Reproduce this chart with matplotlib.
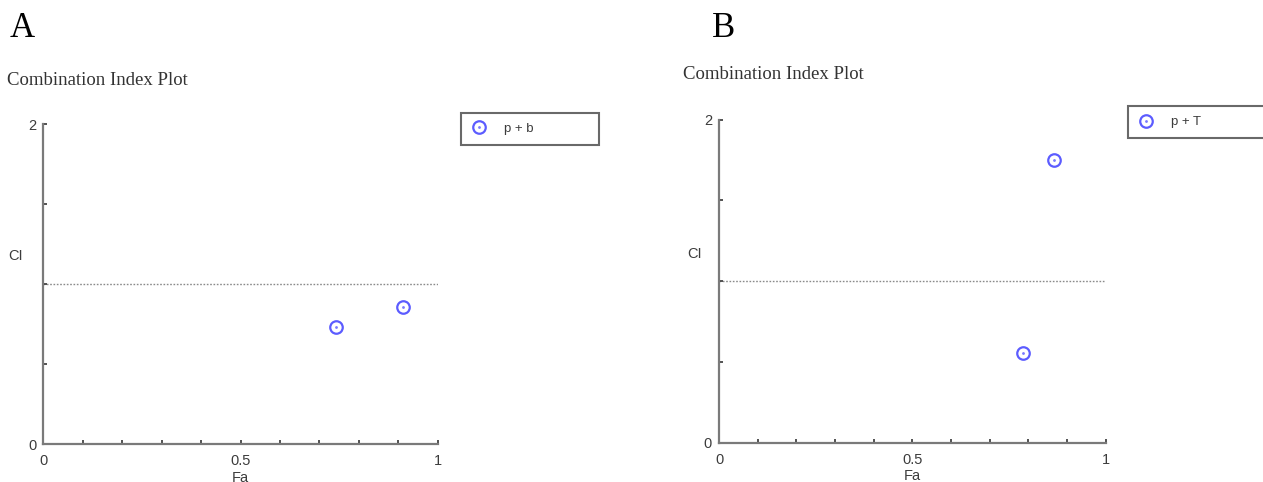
import matplotlib
matplotlib.use("Agg")
import matplotlib.pyplot as plt

# ---- data ----
panel_labels = ["A", "B"]
series_names = ["p + b", "p + T"]
fa_a = [0.742, 0.912]
ci_a = [0.733, 0.858]
fa_b = [0.785, 0.867]
ci_b = [0.556, 1.748]
ref_ci = 1.0
x_ticklabels = ["0", "0.5", "1"]
y_ticklabels = ["0", "2"]

W, H = 1263, 482
fig = plt.figure(figsize=(W / 100, H / 100), dpi=100)

marker_col = "#5c5cff"
axis_col = "#7a7a7a"
text_col = "#3c3c3c"
sans = ["Liberation Sans", "DejaVu Sans"]
serif = ["Liberation Serif", "DejaVu Serif"]

panels = [
    dict(label=panel_labels[0], lab_xy=(10, 37), title_xy=(7, 85),
         ax_px=(43.3, 437.7, 444, 124), fa=fa_a, ci=ci_a, name=series_names[0],
         leg=(461, 112.7, 138), ci_lab=(16, 263)),
    dict(label=panel_labels[1], lab_xy=(712, 37), title_xy=(683, 79),
         ax_px=(719, 1105.7, 443, 119.5), fa=fa_b, ci=ci_b, name=series_names[1],
         leg=(1128, 106, 140), ci_lab=(695, 261)),
]

for p in panels:
    x0, x1, yb, yt = p["ax_px"]
    ax = fig.add_axes([x0 / W, 1 - yb / H, (x1 - x0) / W, (yb - yt) / H])
    ax.set_xlim(0, 1)
    ax.set_ylim(0, 2)
    for s in ["top", "right"]:
        ax.spines[s].set_visible(False)
    for s in ["left", "bottom"]:
        ax.spines[s].set_color(axis_col)
        ax.spines[s].set_linewidth(1.6)
    ax.set_xticks([i / 10 for i in range(11)])
    xl = [""] * 11
    xl[0], xl[5], xl[10] = x_ticklabels
    ax.set_xticklabels(xl)
    ax.set_yticks([0, 0.5, 1, 1.5, 2])
    ax.set_yticklabels([y_ticklabels[0], "", "", "", y_ticklabels[1]])
    ax.tick_params(axis="both", direction="in", length=3, width=1.3, color="#444444",
                   labelsize=10.5, labelcolor=text_col)
    ax.tick_params(axis="x", pad=7)
    ax.tick_params(axis="y", pad=5)
    for lab in ax.get_xticklabels() + ax.get_yticklabels():
        lab.set_fontfamily(sans)
    ax.axhline(ref_ci, color="#8a8a8a", linestyle=(0, (1.2, 1.2)), linewidth=1.0, zorder=1)
    ring, = ax.plot(p["fa"], p["ci"], linestyle="none", marker="o", markersize=9,
                    markerfacecolor="none", markeredgecolor=marker_col,
                    markeredgewidth=1.6, clip_on=False, zorder=3)
    dot, = ax.plot(p["fa"], p["ci"], linestyle="none", marker="o", markersize=1.0,
                   markerfacecolor="#7a7aff", markeredgecolor="#7a7aff",
                   clip_on=False, zorder=4)
    ax.set_xlabel("Fa", fontsize=10.5, color=text_col, family=sans, labelpad=2)
    ax.set_ylabel("CI", fontsize=10.5, color=text_col, family=sans, rotation=0)
    cx, cy = p["ci_lab"]
    ax.yaxis.set_label_coords((cx - x0) / (x1 - x0), (yb - cy) / (yb - yt))

    lx, ly, lw = p["leg"]
    lh = 33
    leg = ax.legend([(ring, dot)], [p["name"]], loc="upper left",
                    bbox_to_anchor=(lx / W, 1 - (ly + lh) / H, lw / W, lh / H),
                    bbox_transform=fig.transFigure, mode="expand",
                    frameon=True, fancybox=False, borderpad=0.75,
                    handlelength=1.2, handletextpad=1.3, borderaxespad=0,
                    prop={"family": sans, "size": 9.5})
    leg.get_frame().set_edgecolor("#444444")
    leg.get_frame().set_linewidth(1.5)
    for t in leg.get_texts():
        t.set_color(text_col)

    fig.text(p["lab_xy"][0] / W, 1 - p["lab_xy"][1] / H, p["label"],
             fontsize=25, family=serif, color="black", va="baseline", ha="left")
    fig.text(p["title_xy"][0] / W, 1 - p["title_xy"][1] / H, "Combination Index Plot",
             fontsize=13.5, family=serif, color="#333333", va="baseline", ha="left")

fig.savefig("out.png", dpi=100)
